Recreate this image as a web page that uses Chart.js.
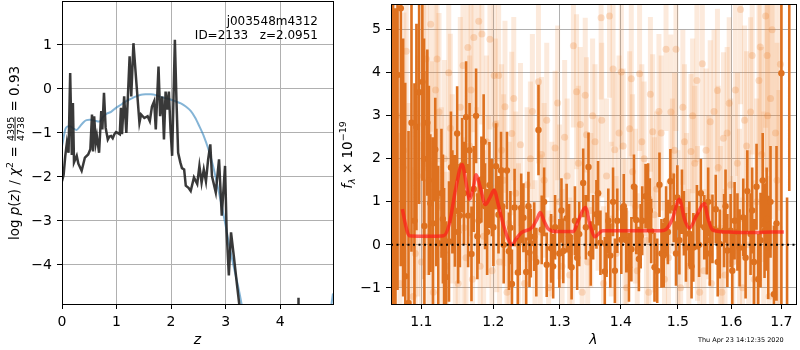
<!DOCTYPE html>
<html>
<head>
<meta charset="utf-8">
<script src="https://cdn.jsdelivr.net/npm/chart.js@4"></script>
<style>
  body { margin: 0; background: #fff; width: 800px; height: 350px; overflow: hidden; }
  canvas { position: absolute; top: 0; }
  #pz { left: 0; }
  #spec { left: 330px; }
</style>
</head>
<body>
<canvas id="spec" width="470" height="350"></canvas>
<canvas id="pz" width="340" height="350"></canvas>
<script>
// ── Left panel: log p(z) ───────────────────────────────────
const zBlack = [0.00, 0.03, 0.06, 0.09, 0.12, 0.15, 0.18, 0.20, 0.22, 0.27, 0.30, 0.36, 0.42, 0.48, 0.52,
  0.55, 0.57, 0.59, 0.62, 0.64, 0.68, 0.72, 0.74, 0.77, 0.80, 0.84, 0.87, 0.90, 0.93, 0.96, 0.99, 1.02,
  1.06, 1.08, 1.10, 1.14, 1.18, 1.24, 1.27, 1.31, 1.36, 1.42, 1.45, 1.51, 1.57, 1.61, 1.65, 1.69, 1.72,
  1.77, 1.80, 1.84, 1.87, 1.90, 1.93, 1.96, 1.99, 2.02, 2.07, 2.10, 2.13, 2.17, 2.20, 2.24, 2.27, 2.32,
  2.36, 2.42, 2.48, 2.52, 2.56, 2.60, 2.64, 2.68, 2.72, 2.75, 2.82, 2.88, 2.93, 2.99, 3.02, 3.06, 3.10,
  3.15, 3.21, 3.27, 3.30, 4.33, 4.335, 4.34];
const lnpBlack = [-2.10, -1.95, -1.52, -1.22, -1.45, 0.36, -1.50, -0.32, -1.67, -1.52, -1.70, -1.86, -1.56, -1.49, -1.37,
  -0.58, -1.42, -0.62, -1.22, -1.07, -1.45, -0.50, -0.92, -0.09, -0.88, -1.15, -1.08, -1.07, -1.12, -1.03, -0.98, -1.00,
  -1.03, -0.43, -1.03, -0.17, -1.00, 0.74, -0.17, 1.04, 0.21, -0.77, -0.58, -0.66, -0.62, -0.73, -0.40, -0.28, -0.92,
  0.51, -0.62, -0.17, -1.15, -0.06, -0.47, -0.06, -0.92, -1.52, 1.12, -0.30, -1.45, -1.67, -1.80, -1.83, -2.20, -2.25,
  -2.32, -2.01, -2.16, -1.75, -2.13, -1.83, -2.10, -1.60, -1.26, -1.98, -2.35, -1.60, -2.88, -1.75, -3.26, -4.24, -3.26,
  -3.79, -4.46, -5.10, null, -5.00, -4.75, -5.00];
const zBlue = [0.00, 0.03, 0.06, 0.09, 0.15, 0.21, 0.27, 0.33, 0.40, 0.45, 0.52, 0.60, 0.69, 0.75, 0.82, 0.90,
  0.99, 1.08, 1.17, 1.27, 1.36, 1.45, 1.54, 1.63, 1.72, 1.81, 1.90, 1.99, 2.08, 2.18, 2.27, 2.36, 2.44,
  2.52, 2.60, 2.68, 2.76, 2.84, 2.92, 3.00, 3.08, 3.16, 3.24, 3.31, 3.40, 4.93, 4.97];
const lnpBlue = [-1.30, -1.10, -0.92, -0.86, -0.85, -0.90, -0.93, -0.85, -0.75, -0.71, -0.70, -0.72, -0.74, -0.64, -0.56, -0.52,
  -0.43, -0.36, -0.28, -0.22, -0.17, -0.13, -0.12, -0.12, -0.14, -0.18, -0.21, -0.24, -0.28, -0.33, -0.40, -0.50, -0.65,
  -0.85, -1.07, -1.35, -1.70, -2.13, -2.60, -3.10, -3.64, -4.10, -4.55, -5.00, null, -5.00, -4.65];
const zTicks = [0, 1, 2, 3, 4];
const lnpTicks = [-4, -3, -2, -1, 0, 1];
const fieldName = 'j003548m4312';
const idLine = 'ID=2133   z=2.0951';

// ── Right panel: spectrum ──────────────────────────────────
const lamTicks = [1.1, 1.2, 1.3, 1.4, 1.5, 1.6, 1.7];
const fluxTicks = [-1, 0, 1, 2, 3, 4, 5];
const modelLam = [1.075, 1.080, 1.084, 1.100, 1.115, 1.130, 1.138, 1.146, 1.1556, 1.161, 1.166, 1.171, 1.1752,
  1.181, 1.1885, 1.195, 1.2011, 1.207, 1.213, 1.220, 1.2273, 1.234, 1.242, 1.2573, 1.265, 1.2701, 1.276, 1.2826,
  1.295, 1.310, 1.322, 1.3297, 1.3413, 1.349, 1.3566, 1.3697, 1.400, 1.440, 1.470, 1.4787, 1.490, 1.5027, 1.512,
  1.5209, 1.535, 1.5486, 1.556, 1.5641, 1.590, 1.620, 1.650, 1.680, 1.705];
const modelFlux = [0.83, 0.40, 0.21, 0.20, 0.20, 0.21, 0.50, 1.25, 1.87, 1.45, 1.06, 1.30, 1.63,
  1.35, 0.94, 1.10, 1.27, 0.95, 0.56, 0.20, 0.00, 0.15, 0.29, 0.40, 0.60, 0.75, 0.55, 0.37,
  0.31, 0.31, 0.31, 0.56, 0.87, 0.45, 0.19, 0.33, 0.33, 0.33, 0.33, 0.36, 0.60, 1.06, 0.60,
  0.39, 0.70, 0.96, 0.60, 0.35, 0.30, 0.29, 0.29, 0.30, 0.30];

// strong points (first beam, then second beam)
const darkLam = [1.0630, 1.0660, 1.0687, 1.0730, 1.0760, 1.0787, 1.0830, 1.0869, 1.0908, 1.0934, 1.0970, 1.1013,
  1.1040, 1.1079, 1.1119, 1.1155, 1.1186, 1.1226, 1.1270, 1.1306, 1.1333, 1.1373, 1.1420, 1.1455, 1.1486, 1.1524,
  1.1556, 1.1611, 1.1639, 1.1687, 1.1719, 1.1752, 1.1790, 1.1828, 1.1880, 1.1943, 1.2001, 1.2039, 1.2075, 1.2112,
  1.2151, 1.2199, 1.2228, 1.2273, 1.2312, 1.2361, 1.2411, 1.2445, 1.2486, 1.2536, 1.2556, 1.2608, 1.2673, 1.2723,
  1.2800, 1.2868, 1.2930, 1.2997, 1.3059, 1.3112, 1.3191, 1.3244, 1.3313, 1.3377, 1.3421, 1.3463, 1.3539, 1.3593,
  1.3659, 1.3731, 1.3790, 1.3823, 1.3869, 1.3940, 1.4008, 1.4093, 1.4138, 1.4224, 1.4263, 1.4309, 1.4367, 1.4425,
  1.4470, 1.4523, 1.4582, 1.4670, 1.4705, 1.4746, 1.4787, 1.4865, 1.4925, 1.4966, 1.5027, 1.5074, 1.5147, 1.5209,
  1.5283, 1.5349, 1.5423, 1.5486, 1.5534, 1.5591, 1.5641, 1.5703, 1.5779, 1.5862, 1.5925, 1.5988, 1.6065, 1.6162,
  1.6234, 1.6313, 1.6378, 1.6445, 1.6497, 1.6577, 1.6657, 1.6732, 1.6778, 1.6847, 1.7000, 1.7117, 1.7163,
  1.1035, 1.1100, 1.1200, 1.1290, 1.1400, 1.1500, 1.1580, 1.1660, 1.1770, 1.1860, 1.1910, 1.1980, 1.2130, 1.2250,
  1.2390, 1.2520, 1.2640, 1.2760, 1.2900, 1.3030, 1.3150, 1.3280, 1.3500, 1.3620, 1.3760, 1.3900, 1.4050, 1.4180,
  1.4340, 1.4500, 1.4630, 1.4820, 1.4990, 1.5110, 1.5250, 1.5390, 1.5560, 1.5740, 1.5890, 1.6020, 1.6120, 1.6280,
  1.6410, 1.6530, 1.6620, 1.6700, 1.6900];
const darkFlux = [6.50, -2.00, 3.95, 5.50, 1.80, -0.73, -1.35, 2.84, 0.56, 2.74, 3.55, 3.79,
  0.44, 2.84, 0.97, 0.50, 2.22, 0.04, 1.20, -0.18, -0.75, 0.08, 1.00, 0.79, 2.59, 0.68,
  1.85, 2.97, 0.68, -0.21, 1.30, 3.00, 0.56, 1.52, 0.90, 1.39, 0.41, 1.83, 0.70, 1.73,
  0.00, 1.73, -0.15, -0.91, 0.87, -0.64, 0.86, 0.63, -0.63, -0.18, 0.04, 0.19, 2.67, 0.35,
  -0.46, -0.08, 0.41, -0.20, -0.14, 0.62, -0.52, 0.56, 0.25, 1.44, 0.41, 1.81, 0.41, 0.71,
  0.05, -0.62, 0.56, -0.25, 1.00, 0.56, 0.12, 0.11, -0.52, 1.35, 0.58, -0.33, 0.56, 1.13,
  1.10, 0.32, -0.52, 1.40, -0.20, -0.24, 0.56, 1.48, 0.86, -0.20, 0.11, 1.00, -0.06, 0.26,
  -0.06, 0.64, 1.20, 0.41, 0.11, -0.20, 0.37, 0.83, 0.02, 0.33, -0.13, 0.33, 0.56, -0.07,
  0.64, 1.25, 0.25, -0.40, 1.35, 0.11, 0.33, -0.06, 1.00, -1.15, 3.99, -2.50, 7.00,
  2.00, 1.50, 1.10, 0.60, 1.80, 0.30, 1.20, 2.20, 0.20, 2.40, 0.30, 1.10, 0.90, 0.40,
  0.10, 0.90, -0.40, 1.00, -0.50, 0.80, 0.20, -0.30, -0.20, 1.20, 0.00, -0.60, 0.90, -0.10,
  0.20, 0.80, -0.60, 0.30, 1.10, 0.50, -0.50, 0.00, 1.00, -0.40, 0.90, -0.60, 0.30, -0.30,
  0.80, -0.80, 1.50, 0.60, 0.50];
const darkErr = [8.0, 7.5, 5.0, 6.0, 3.0, 4.5, 4.0, 3.0, 3.2, 2.4, 2.6, 2.3,
  3.6, 1.7, 1.6, 2.0, 1.2, 1.8, 1.5, 1.5, 1.3, 1.4, 1.2, 1.3, 1.1, 1.2,
  1.1, 1.3, 1.2, 1.1, 1.0, 1.1, 1.0, 1.0, 1.0, 1.0, 0.9, 1.0, 0.9, 0.9,
  0.9, 0.9, 0.9, 0.8, 0.9, 0.8, 0.8, 0.8, 0.8, 0.8, 0.8, 0.8, 1.05, 0.8,
  0.75, 0.8, 0.75, 0.8, 0.75, 0.8, 0.75, 0.8, 0.75, 0.8, 0.75, 0.8, 0.75, 0.8,
  0.75, 0.8, 0.75, 0.75, 0.8, 0.75, 0.8, 0.75, 0.8, 0.75, 0.8, 0.75, 0.8, 0.75,
  0.8, 0.75, 0.8, 0.75, 0.8, 0.75, 0.8, 0.75, 0.8, 0.75, 0.8, 0.75, 0.8, 0.75,
  0.8, 0.75, 0.8, 0.75, 0.8, 0.75, 0.8, 0.8, 0.8, 0.85, 0.85, 0.85, 0.9, 0.9,
  0.9, 0.95, 0.95, 1.0, 1.0, 1.1, 1.1, 1.2, 1.3, 1.6, 6.0, 3.6, 5.75,
  2.8, 2.2, 1.6, 1.5, 1.3, 1.2, 1.2, 1.1, 1.0, 1.1, 1.0, 0.9, 0.9, 0.85,
  0.8, 0.8, 0.8, 0.8, 0.75, 0.75, 0.75, 0.75, 0.75, 0.75, 0.75, 0.75, 0.75, 0.75,
  0.75, 0.75, 0.75, 0.75, 0.75, 0.75, 0.75, 0.75, 0.8, 0.8, 0.85, 0.9, 0.9, 0.95,
  1.0, 1.05, 1.1, 1.2, 1.8];

// faint points (first beam, then second beam)
const lightLam = [1.065, 1.072, 1.077, 1.084, 1.089, 1.095, 1.100, 1.1066, 1.106, 1.1124, 1.1140, 1.116, 1.1210,
  1.1237, 1.127, 1.134, 1.1392, 1.142, 1.150, 1.1567, 1.158, 1.1636, 1.166, 1.170, 1.1720, 1.1790, 1.1835, 1.186,
  1.190, 1.1950, 1.198, 1.2013, 1.205, 1.2077, 1.212, 1.2170, 1.220, 1.2270, 1.233, 1.2400, 1.246, 1.255, 1.262,
  1.2673, 1.2720, 1.276, 1.283, 1.2930, 1.300, 1.308, 1.316, 1.3220, 1.3270, 1.330, 1.336, 1.3410, 1.3430, 1.350,
  1.357, 1.3670, 1.371, 1.376, 1.3810, 1.3869, 1.3897, 1.392, 1.4008, 1.404, 1.410, 1.4178, 1.420, 1.428, 1.4321,
  1.440, 1.448, 1.4550, 1.462, 1.470, 1.476, 1.4787, 1.4874, 1.490, 1.4966, 1.505, 1.512, 1.520, 1.5240, 1.531,
  1.5349, 1.540, 1.5450, 1.552, 1.5598, 1.562, 1.5735, 1.575, 1.582, 1.5850, 1.592, 1.5960, 1.603, 1.612, 1.6180,
  1.622, 1.630, 1.6378, 1.645, 1.6545, 1.660, 1.6680, 1.6710, 1.675, 1.6778, 1.688, 1.695,
  1.068, 1.080, 1.092, 1.103, 1.110, 1.119, 1.131, 1.137, 1.146, 1.153, 1.161, 1.168, 1.176, 1.181,
  1.193, 1.203, 1.209, 1.215, 1.223, 1.230, 1.237, 1.250, 1.258, 1.270, 1.280, 1.288, 1.297, 1.304,
  1.312, 1.320, 1.333, 1.345, 1.353, 1.362, 1.368, 1.384, 1.397, 1.407, 1.415, 1.425, 1.436, 1.444,
  1.451, 1.458, 1.466, 1.483, 1.494, 1.500, 1.509, 1.516, 1.527, 1.536, 1.548, 1.557, 1.567, 1.579,
  1.588, 1.599, 1.608, 1.616, 1.626, 1.634, 1.641, 1.650, 1.657, 1.664, 1.672, 1.681, 1.691, 1.698];
const lightFlux = [1.2, -0.9, 2.2, 0.3, -1.2, 1.6, -0.4, 4.32, 1.9, 5.13, 1.87, -1.1, 4.32,
  3.09, 0.9, -0.5, 2.71, 1.3, -0.9, 4.17, 0.4, 4.59, 2.3, -0.8, 4.82, 5.20, 4.90, 0.2,
  2.4, 4.78, -0.6, 3.94, 0.9, 3.94, 2.2, 3.21, -1.1, 2.59, 1.2, 2.33, -0.9, 2.0, -0.3,
  3.79, 2.10, 1.5, -1.0, 2.25, 1.0, 2.5, -0.7, 4.63, 3.56, 1.9, -1.1, 3.48, 2.56, 0.8,
  2.4, 5.28, -0.9, 1.6, 5.32, 4.09, 2.21, -0.2, 4.02, 2.3, -1.0, 3.86, 1.7, -0.6, 3.98,
  2.0, -1.1, 2.63, 1.3, 2.6, -0.8, 4.55, 3.09, 1.6, 4.55, -1.0, 2.4, -0.5, 2.17, 1.9,
  3.82, -1.1, 4.21, 2.2, 2.86, -0.9, 3.59, 1.8, -1.1, 2.48, 2.6, 3.29, -0.4, 1.9, 5.47,
  -1.0, 2.3, 3.09, -0.8, 3.82, 2.1, 5.32, 4.40, -1.2, 3.40, 2.6, 0.4,
  3.0, 4.5, -0.2, 2.8, 0.2, 3.6, 2.0, 4.0, 0.8, 3.2, -0.3, 3.6, 1.2, -0.5,
  1.0, 2.8, -0.4, 1.5, 0.5, 3.4, 0.0, 1.4, 3.1, 0.3, 2.9, 0.6, 3.3, -0.5,
  1.6, 0.2, 2.8, -0.4, 3.0, 1.2, 2.9, 0.6, 2.6, 0.2, 2.7, 0.9, 2.4, 0.1,
  3.5, 0.7, 3.1, -0.3, 2.2, 0.4, 3.2, 0.8, 3.0, 0.5, -0.6, 1.1, 3.1, 0.4,
  -0.7, 1.4, 3.6, 0.6, 2.9, 0.0, 4.4, 1.0, 4.6, 0.5, 3.0, 5.0, 1.5, 4.2];
const lightErr = [3.5, 3.5, 3.2, 3.0, 3.0, 2.8, 2.8, 2.6, 2.6, 2.5, 2.4, 2.4, 2.4,
  2.3, 2.3, 2.2, 2.2, 2.2, 2.1, 2.2, 2.1, 2.2, 2.1, 2.0, 2.2, 2.2, 2.1, 2.0,
  2.0, 2.1, 2.0, 2.0, 2.0, 2.0, 2.0, 2.0, 1.9, 1.9, 1.9, 1.9, 1.8, 1.8, 1.8,
  1.9, 1.8, 1.8, 1.8, 1.8, 1.8, 1.8, 1.8, 1.9, 1.8, 1.8, 1.8, 1.8, 1.8, 1.8,
  1.8, 1.9, 1.8, 1.8, 1.9, 1.8, 1.8, 1.8, 1.8, 1.8, 1.8, 1.8, 1.8, 1.8, 1.8,
  1.8, 1.8, 1.8, 1.8, 1.8, 1.8, 1.9, 1.8, 1.8, 1.9, 1.8, 1.8, 1.8, 1.8, 1.8,
  1.9, 1.8, 1.9, 1.9, 1.9, 1.9, 1.9, 1.9, 1.9, 2.0, 2.0, 2.0, 2.0, 2.1, 2.2,
  2.1, 2.2, 2.2, 2.3, 2.4, 2.5, 2.6, 2.7, 2.8, 2.8, 3.0, 3.2,
  3.5, 3.5, 3.0, 2.8, 2.6, 2.4, 2.3, 2.2, 2.2, 2.1, 2.1, 2.1, 2.0, 2.0,
  2.0, 2.0, 2.0, 2.0, 1.9, 1.9, 1.9, 1.8, 1.8, 1.8, 1.8, 1.8, 1.8, 1.8,
  1.8, 1.8, 1.8, 1.8, 1.8, 1.8, 1.8, 1.8, 1.8, 1.8, 1.8, 1.8, 1.8, 1.8,
  1.8, 1.8, 1.8, 1.8, 1.8, 1.8, 1.8, 1.8, 1.8, 1.8, 1.9, 1.9, 1.9, 1.9,
  2.0, 2.0, 2.0, 2.1, 2.2, 2.2, 2.3, 2.4, 2.5, 2.6, 2.8, 3.0, 3.2, 3.4];
const stamp = 'Thu Apr 23 14:12:35 2020';

// ── helpers ────────────────────────────────────────────────
const FONT = 'DejaVu Sans';
Chart.defaults.font.family = FONT;
Chart.defaults.font.size = 14;
Chart.defaults.color = '#000';

const pts = (xs, ys) => xs.map((x, i) => ({ x, y: ys[i] }));

// vertical error bars as one broken line: lo, hi, gap
function errSegments(xs, ys, es) {
  const out = [];
  xs.forEach((x, i) => {
    out.push({ x, y: ys[i] - es[i] }, { x, y: ys[i] + es[i] }, { x, y: null });
  });
  return out;
}

const minus = v => String(v).replace('-', '\u2212');

// keep the plot box exactly where the figure has it
const fixBox = size => s => {
  if (s.isHorizontal()) s.height = size; else s.width = size;
  s.paddingTop = s.paddingBottom = s.paddingLeft = s.paddingRight = 0;
};

const frame = {
  id: 'frame',
  afterDraw(chart) {
    const { ctx, chartArea: a } = chart;
    ctx.save();
    ctx.strokeStyle = '#000';
    ctx.lineWidth = 1;
    ctx.strokeRect(a.left + 0.5, a.top + 0.5, a.width, a.height);
    ctx.restore();
  },
};

// rotated label made of runs; fraction runs have two strings
function drawRotated(ctx, cx, cy, runs) {
  ctx.save();
  ctx.translate(cx, cy);
  ctx.rotate(-Math.PI / 2);
  ctx.fillStyle = '#000';
  ctx.textBaseline = 'alphabetic';
  let total = 0;
  runs.forEach(r => {
    ctx.font = r.font;
    r.w = Math.max(...r.text.map(t => ctx.measureText(t).width)) + (r.pad || 0);
    total += r.w;
  });
  let x = -total / 2;
  runs.forEach(r => {
    ctx.font = r.font;
    if (r.text.length === 2) {
      ctx.textAlign = 'center';
      ctx.fillText(r.text[0], x + r.w / 2, -5.5);
      ctx.fillText(r.text[1], x + r.w / 2, 5);
      ctx.fillRect(x + 1, -4.4, r.w - 2, 0.9);
      ctx.textAlign = 'left';
    } else {
      ctx.fillText(r.text[0], x, r.dy || 0);
    }
    x += r.w;
  });
  ctx.restore();
}

const N = `13.5px "${FONT}"`, I = `italic 13.5px "${FONT}"`, S = `9.5px "${FONT}"`, SI = `italic 9.5px "${FONT}"`;

const pzLabels = {
  id: 'pzLabels',
  afterDraw(chart) {
    const ctx = chart.ctx;
    drawRotated(ctx, 19, 153, [
      { font: N, text: ['log '] }, { font: I, text: ['p'] }, { font: N, text: ['('] },
      { font: I, text: ['z'] }, { font: N, text: [') / '] }, { font: I, text: ['\u03c7'] },
      { font: S, text: ['2'], dy: -6 }, { font: N, text: [' = '] },
      { font: S, text: ['4395', '4738'], pad: 2 }, { font: N, text: [' = 0.93'] },
    ]);
    ctx.save();
    ctx.font = `12px "${FONT}"`;
    ctx.fillStyle = '#000';
    ctx.textAlign = 'right';
    ctx.fillText(fieldName, 318, 25);
    ctx.fillText(idLine, 318, 39);
    ctx.restore();
  },
};

const specLabels = {
  id: 'specLabels',
  afterDraw(chart) {
    const ctx = chart.ctx;
    drawRotated(ctx, 22, 155, [
      { font: I, text: ['f'] }, { font: SI, text: ['\u03bb'], dy: 3 },
      { font: N, text: [' \u00d7 10'] }, { font: S, text: ['\u221219'], dy: -6 },
    ]);
    ctx.save();
    ctx.font = `6.5px "${FONT}"`;
    ctx.fillStyle = '#000';
    ctx.fillText(stamp, 368, 342);
    ctx.restore();
  },
};

const gridOpts = { color: '#b0b0b0', lineWidth: 1, tickColor: '#000', tickLength: 5 };

// ── left chart ─────────────────────────────────────────────
new Chart(document.getElementById('pz'), {
  type: 'scatter',
  data: {
    datasets: [
      {
        data: pts(zBlack, lnpBlack), showLine: true, pointRadius: 0,
        borderColor: 'rgba(35,35,35,0.9)', borderWidth: 2.5, spanGaps: false, clip: 0, order: 0,
      },
      {
        data: pts(zBlue, lnpBlue), showLine: true, pointRadius: 0, tension: 0.3,
        borderColor: 'rgba(31,119,180,0.55)', borderWidth: 2, spanGaps: false, clip: 0, order: 1,
      },
    ],
  },
  options: {
    responsive: false, animation: false, events: [],
    layout: { padding: { top: 1, right: 7, left: 0, bottom: 0 } },
    plugins: { legend: { display: false }, tooltip: { enabled: false } },
    scales: {
      x: {
        type: 'linear', min: 0, max: 4.97,
        afterBuildTicks: s => { s.ticks = zTicks.map(v => ({ value: v })); },
        afterFit: fixBox(46),
        ticks: { padding: 5, callback: v => minus(v) },
        grid: gridOpts, border: { display: false },
        title: { display: true, text: 'z', font: { style: 'italic', size: 14 }, padding: { top: 0, bottom: 1 } },
      },
      y: {
        min: -4.89, max: 2.0,
        afterBuildTicks: s => { s.ticks = lnpTicks.map(v => ({ value: v })); },
        afterFit: fixBox(62),
        ticks: { padding: 5, callback: v => minus(v) },
        grid: gridOpts, border: { display: false },
      },
    },
  },
  plugins: [frame, pzLabels],
});

// ── right chart ────────────────────────────────────────────
const DARK = 'rgb(222,113,31)';
const LIGHT_BAR = 'rgba(235,130,50,0.17)';
const LIGHT_DOT = 'rgba(235,130,50,0.25)';

new Chart(document.getElementById('spec'), {
  type: 'scatter',
  data: {
    datasets: [
      {
        data: [{ x: 1.0603, y: 0 }, { x: 1.7303, y: 0 }], showLine: true, pointRadius: 0,
        borderColor: '#000', borderWidth: 2, borderDash: [2, 3.5], clip: 0, order: 0,
      },
      {
        data: pts(modelLam, modelFlux), showLine: true, pointRadius: 0, cubicInterpolationMode: 'monotone',
        borderColor: 'rgba(255,25,25,0.68)', borderWidth: 3.5, clip: 0, order: 1,
      },
      {
        data: pts(darkLam, darkFlux), pointRadius: 3.2, pointBorderWidth: 0,
        pointBackgroundColor: DARK, clip: 0, order: 2,
      },
      {
        data: errSegments(darkLam, darkFlux, darkErr), showLine: true, pointRadius: 0, spanGaps: false,
        borderColor: DARK, borderWidth: 2.6, borderCapStyle: 'butt', clip: 0, order: 3,
      },
      {
        data: pts(lightLam, lightFlux), pointRadius: 3.5, pointBorderWidth: 0,
        pointBackgroundColor: LIGHT_DOT, clip: 0, order: 4,
      },
      {
        data: errSegments(lightLam, lightFlux, lightErr), showLine: true, pointRadius: 0, spanGaps: false,
        borderColor: LIGHT_BAR, borderWidth: 5, borderCapStyle: 'butt', clip: 0, order: 5,
        segment: { borderColor: () => LIGHT_BAR },
      },
    ],
  },
  options: {
    responsive: false, animation: false, events: [],
    layout: { padding: { top: 1, right: 1, left: 0, bottom: 0 } },
    plugins: { legend: { display: false }, tooltip: { enabled: false } },
    scales: {
      x: {
        type: 'logarithmic', min: 1.0603, max: 1.7303,
        afterBuildTicks: s => { s.ticks = lamTicks.map(v => ({ value: v })); },
        afterFit: fixBox(46),
        ticks: { padding: 5, autoSkip: false, maxRotation: 0, callback: v => Number(v).toFixed(1) },
        grid: gridOpts, border: { display: false },
        title: { display: true, text: '\u03bb', font: { style: 'italic', size: 14 }, padding: { top: 0, bottom: 1 } },
      },
      y: {
        min: -1.375, max: 5.6,
        afterBuildTicks: s => { s.ticks = fluxTicks.map(v => ({ value: v })); },
        afterFit: fixBox(61),
        ticks: { padding: 5, callback: v => minus(v) },
        grid: gridOpts, border: { display: false },
      },
    },
  },
  plugins: [frame, specLabels],
});
</script>
</body>
</html>
